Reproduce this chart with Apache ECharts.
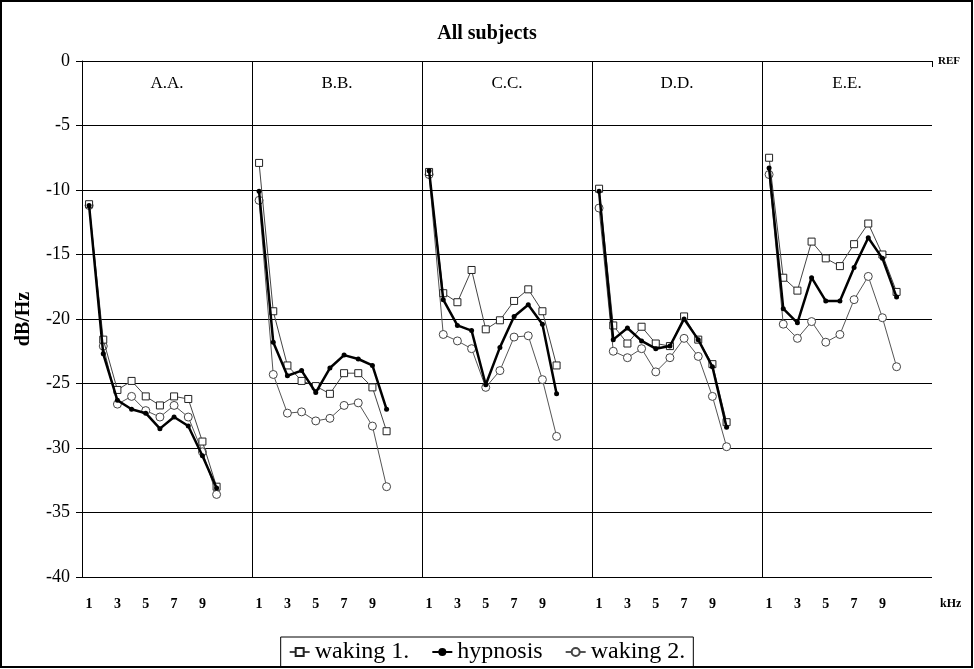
<!DOCTYPE html>
<html>
<head>
<meta charset="utf-8">
<script src="https://cdn.jsdelivr.net/npm/echarts@6/dist/echarts.min.js"></script>
<style>
html, body { margin: 0; padding: 0; background: #fff; }
#chart { width: 974px; height: 669px; }
</style>
</head>
<body>
<div id="chart"></div>
<script>
// subjects (one panel each), 10 frequency points per panel + 2 empty slots as gap
const subjects = ['A.A.', 'B.B.', 'C.C.', 'D.D.', 'E.E.']
const kHzLabels = ['1', '', '3', '', '5', '', '7', '', '9', '', '', '']

// dB/Hz values read per subject, 1..10 kHz
const waking1 = [
  [-11.1, -21.6, -25.5, -24.8, -26.0, -26.7, -26.0, -26.2, -29.5, -33.0],
  [-7.9, -19.4, -23.6, -24.8, -25.2, -25.8, -24.2, -24.2, -25.3, -28.7],
  [-8.6, -18.0, -18.7, -16.2, -20.8, -20.1, -18.6, -17.7, -19.4, -23.6],
  [-9.9, -20.5, -21.9, -20.6, -21.9, -22.1, -19.8, -21.6, -23.5, -28.0],
  [-7.5, -16.8, -17.8, -14.0, -15.3, -15.9, -14.2, -12.6, -15.0, -17.9]
]
const hypnosis = [
  [-11.2, -22.7, -26.3, -27.0, -27.3, -28.5, -27.6, -28.3, -30.6, -33.1],
  [-10.1, -21.8, -24.4, -24.0, -25.7, -23.8, -22.8, -23.1, -23.6, -27.0],
  [-8.5, -18.5, -20.5, -20.9, -25.1, -22.2, -19.8, -18.9, -20.4, -25.8],
  [-10.1, -21.6, -20.7, -21.7, -22.3, -22.1, -20.0, -21.6, -23.7, -28.4],
  [-8.3, -19.2, -20.3, -16.8, -18.6, -18.6, -16.0, -13.7, -15.3, -18.3]
]
const waking2 = [
  [-11.2, -22.1, -26.6, -26.0, -27.1, -27.6, -26.7, -27.6, -30.3, -33.6],
  [-10.8, -24.3, -27.3, -27.2, -27.9, -27.7, -26.7, -26.5, -28.3, -33.0],
  [-8.8, -21.2, -21.7, -22.3, -25.3, -24.0, -21.4, -21.3, -24.7, -29.1],
  [-11.4, -22.5, -23.0, -22.3, -24.1, -23.0, -21.5, -22.9, -26.0, -29.9],
  [-8.8, -20.4, -21.5, -20.2, -21.8, -21.2, -18.5, -16.7, -19.9, -23.7]
]

const SLOTS = kHzLabels.length
const FONT = '"Liberation Serif", "DejaVu Serif", serif'

// one flat category axis, nulls break the line between panels
const categories = []
subjects.forEach((s, p) => kHzLabels.forEach((l, i) => categories.push(p * SLOTS + i)))

const flatten = (rows) => {
  const out = []
  rows.forEach(r => {
    r.forEach(v => out.push(v))
    for (let i = r.length; i < SLOTS; i++) out.push(null)
  })
  return out
}

// grid geometry
const gLeft = 82, gRight = 42, gTop = 61, gBottom = 92
const panelW = (974 - gLeft - gRight) / subjects.length

const chart = echarts.init(document.getElementById('chart'))

const option = {
  animation: false,
  backgroundColor: '#fff',
  title: {
    text: 'All subjects',
    left: 'center',
    top: 19,
    textStyle: { fontFamily: FONT, fontWeight: 'bold', fontSize: 20, color: '#000' }
  },
  legend: {
    bottom: 2,
    left: 'center',
    itemWidth: 20,
    itemHeight: 10,
    itemGap: 22,
    borderColor: '#000',
    borderWidth: 1,
    borderRadius: 0,
    padding: [3, 8],
    textStyle: { fontFamily: FONT, fontSize: 24, color: '#000' },
    data: ['waking 1.', 'hypnosis', 'waking 2.']
  },
  grid: { left: gLeft, right: gRight, top: gTop, bottom: gBottom },
  xAxis: {
    type: 'category',
    data: categories,
    boundaryGap: true,
    axisLine: { lineStyle: { color: '#000', width: 1 } },
    axisTick: {
      show: true,
      length: 6,
      interval: (idx) => idx % SLOTS === 0,
      lineStyle: { color: '#000' }
    },
    axisLabel: {
      interval: 0,
      margin: 20,
      formatter: (v) => kHzLabels[Number(v) % SLOTS],
      fontFamily: FONT,
      fontWeight: 'bold',
      fontSize: 14,
      color: '#000'
    },
    splitLine: {
      show: true,
      showMaxLine: false,
      interval: (idx) => idx % SLOTS === 0,
      lineStyle: { color: '#000', width: 1 }
    }
  },
  yAxis: {
    type: 'value',
    min: -40,
    max: 0,
    interval: 5,
    name: 'dB/Hz',
    nameLocation: 'middle',
    nameGap: 48,
    nameRotate: 90,
    nameTextStyle: { fontFamily: FONT, fontWeight: 'bold', fontSize: 20, color: '#000' },
    axisLine: { show: true, lineStyle: { color: '#000' } },
    axisTick: { show: true, length: 6, lineStyle: { color: '#000' } },
    axisLabel: { margin: 12, fontFamily: FONT, fontSize: 18, color: '#000' },
    splitLine: { lineStyle: { color: '#000', width: 1 } }
  },
  series: [
    {
      name: 'waking 1.',
      type: 'line',
      data: flatten(waking1),
      connectNulls: false,
      symbol: 'rect',
      symbolSize: 7,
      lineStyle: { color: '#444', width: 1 },
      itemStyle: { color: '#fff', borderColor: '#222', borderWidth: 1 },
      z: 3
    },
    {
      name: 'hypnosis',
      type: 'line',
      data: flatten(hypnosis),
      connectNulls: false,
      symbol: 'circle',
      symbolSize: 5,
      lineStyle: { color: '#000', width: 2.5 },
      itemStyle: { color: '#000' },
      z: 4
    },
    {
      name: 'waking 2.',
      type: 'line',
      data: flatten(waking2),
      connectNulls: false,
      symbol: 'circle',
      symbolSize: 8,
      lineStyle: { color: '#555', width: 1 },
      itemStyle: { color: '#fff', borderColor: '#444', borderWidth: 1 },
      z: 2
    }
  ],
  graphic: [
    {
      type: 'rect',
      shape: { x: 1, y: 1, width: 971, height: 666 },
      style: { fill: 'none', stroke: '#000', lineWidth: 2 },
      silent: true
    },
    ...subjects.map((s, p) => ({
      type: 'text',
      x: gLeft + panelW * p + panelW / 2,
      y: gTop + 23,
      style: { text: s, fontFamily: FONT, fontSize: 17, fill: '#000', align: 'center', verticalAlign: 'middle' }
    })),
    {
      type: 'text',
      x: 974 - gRight + 6,
      y: gTop,
      style: { text: 'REF', fontFamily: FONT, fontWeight: 'bold', fontSize: 11, fill: '#000', align: 'left', verticalAlign: 'middle' }
    },
    {
      type: 'text',
      x: 974 - gRight + 8,
      y: 669 - gBottom + 27,
      style: { text: 'kHz', fontFamily: FONT, fontWeight: 'bold', fontSize: 12, fill: '#000', align: 'left', verticalAlign: 'middle' }
    }
  ]
}

chart.setOption(option)
</script>
</body>
</html>
